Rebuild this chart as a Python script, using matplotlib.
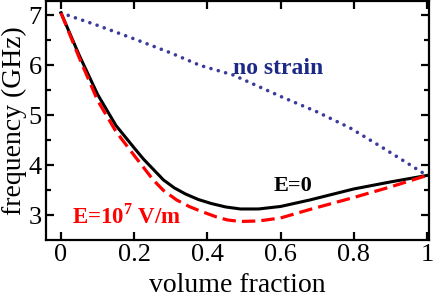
import numpy as np
import matplotlib.pyplot as plt

plt.rcParams['font.family'] = ['Liberation Serif', 'DejaVu Serif']
plt.rcParams['mathtext.fontset'] = 'custom'
plt.rcParams['mathtext.rm'] = 'Liberation Serif'
plt.rcParams['mathtext.bf'] = 'Liberation Serif:bold'

# curves
vf_e0 = [0, 0.05, 0.1, 0.15, 0.2, 0.225, 0.28, 0.31, 0.34, 0.375, 0.41, 0.45, 0.49,
         0.54, 0.6, 0.68, 0.8, 0.9, 1.0]
freq_e0 = [7.05, 6.20, 5.42, 4.80, 4.35, 4.13, 3.71, 3.55, 3.43, 3.32, 3.24, 3.17, 3.13,
           3.13, 3.18, 3.31, 3.53, 3.67, 3.80]

vf_e7 = [0, 0.05, 0.1, 0.15, 0.2, 0.252, 0.28, 0.316, 0.35, 0.38, 0.425, 0.455, 0.49,
         0.54, 0.6, 0.68, 0.8, 0.9, 1.0]
freq_e7 = [7.05, 6.15, 5.30, 4.68, 4.20, 3.71, 3.50, 3.31, 3.18, 3.09, 2.97, 2.91, 2.88,
           2.89, 2.95, 3.12, 3.36, 3.57, 3.80]

vf_ns = [0, 0.1, 0.2, 0.3, 0.38, 0.47, 0.6, 0.7, 0.79, 0.88, 1.0]
freq_ns = [7.05, 6.80, 6.53, 6.25, 6.00, 5.81, 5.38, 5.07, 4.75, 4.35, 3.80]

xticks = [0, 0.2, 0.4, 0.6, 0.8, 1]
xticklabels = ['0', '0.2', '0.4', '0.6', '0.8', '1']
yticks = [3, 4, 5, 6, 7]

fig = plt.figure(figsize=(4.36, 2.97), dpi=100)
ax = fig.add_axes([0.1055, 0.192, 0.878, 0.805])

ax.plot(vf_ns, freq_ns, color='#3b3b9b', lw=2.6, linestyle=(0, (0.01, 2.1)),
        dash_capstyle='round', zorder=2)
ax.plot(vf_e0, freq_e0, color='black', lw=2.2, zorder=3)
ax.plot(vf_e7, freq_e7, color='#ff0000', lw=2.3, linestyle=(0, (4.2, 1.9)), zorder=4)

ax.text(0.593, 5.93, 'no strain', color='#1c2a86', fontsize=17, fontweight='bold',
        ha='center', va='center')
ax.text(0.635, 3.58, 'E=0', color='black', fontsize=16, fontweight='bold',
        ha='center', va='center')
ax.text(0.18, 2.99, r'E=10$^{\mathbf{7}}$ V/m', color='#ff0000', fontsize=16.5,
        fontweight='bold', ha='center', va='center')

ax.set_xlim(-0.041, 1.005)
ax.set_ylim(2.51, 7.29)
ax.set_xticks(xticks)
ax.set_xticklabels(xticklabels)
ax.set_yticks(yticks)
ax.set_yticks([3.5, 4.5, 5.5, 6.5], minor=True)
ax.tick_params(which='both', direction='in', top=True, right=True, width=1.6,
               labelsize=19)
ax.tick_params(which='major', length=6, pad=3)
ax.tick_params(which='minor', length=3.5)
for s in ax.spines.values():
    s.set_linewidth(1.6)

ax.set_xlabel('volume fraction', fontsize=20, labelpad=5)
ax.set_ylabel('frequency (GHz)', fontsize=20, labelpad=1)

fig.savefig('out.png', dpi=100)
